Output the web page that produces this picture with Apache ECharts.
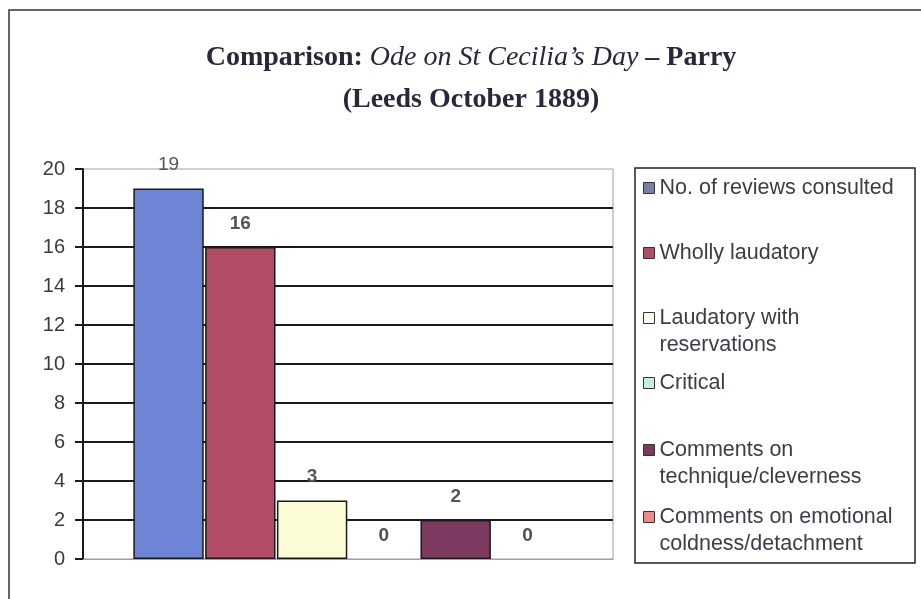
<!DOCTYPE html>
<html>
<head>
<meta charset="utf-8">
<script src="https://cdn.jsdelivr.net/npm/echarts@6/dist/echarts.min.js"></script>
<style>html,body{margin:0;padding:0;background:#fff;}#c{width:921px;height:599px;}</style>
</head>
<body>
<div id="c"></div>
<script>
const categories = ['Leeds October 1889'];
const seriesNames = ['No. of reviews consulted', 'Wholly laudatory', 'Laudatory with\nreservations', 'Critical', 'Comments on\ntechnique/cleverness', 'Comments on emotional\ncoldness/detachment'];
const seriesValues = [19, 16, 3, 0, 2, 0];
const barColors = ['#6d85d4', '#b14d65', '#fbfbd6', '#c8ece4', '#7d3a61', '#f08a8a'];
const legendColors = ['#7a7fa8', '#b14d65', '#fbfbf0', '#c8ece4', '#7d3a61', '#f08a8a'];
const yTicks = [0, 20, 2];

const chart = echarts.init(document.getElementById('c'), null, {renderer: 'canvas'});

const legendCenters = [188, 253, 318, 383, 450, 517];
const LH = 27;
const legends = seriesNames.map((n, i) => {
  const two = n.indexOf('\n') >= 0;
  return {
    orient: 'vertical',
    left: 643,
    top: legendCenters[i] - (two ? 1.5 * LH : 0.5 * LH),
    padding: 0,
    icon: 'rect',
    itemWidth: 11,
    itemHeight: 11,
    selectedMode: false,
    itemStyle: {borderColor: '#333', borderWidth: 1},
    formatter: (name) => (name.indexOf('\n') >= 0 ? '\u00a0\n' + name : name),
    textStyle: {fontFamily: 'Liberation Sans, Arial, sans-serif', fontSize: 21.5, color: '#3c3c4a', lineHeight: LH},
    data: [{name: n, itemStyle: {color: legendColors[i]}}]
  };
});

const series = seriesNames.map((n, i) => ({
  type: 'bar',
  name: n,
  data: [seriesValues[i]],
  barCategoryGap: '19%',
  barGap: '2%',
  itemStyle: {color: barColors[i], borderColor: '#1a1a1a', borderWidth: seriesValues[i] === 0 ? 0 : 1.5},
  label: {
    show: true, position: 'top', distance: 14,
    fontFamily: 'Liberation Sans, Arial, sans-serif', fontSize: 19,
    fontWeight: i === 0 ? 'normal' : 'bold',
    color: i === 3 || i === 5 ? '#4a4e60' : '#555'
  },
  emphasis: {disabled: true}
}));

chart.setOption({
  backgroundColor: '#fff',
  animation: false,
  title: {
    left: 471,
    textAlign: 'center',
    top: 37,
    padding: 0,
    text: '{b|Comparison: }{i|Ode on St Cecilia\u2019s Day}{b| \u2013 Parry}\n{b|(Leeds October 1889)}',
    textStyle: {
      lineHeight: 42,
      rich: {
        b: {fontFamily: 'Liberation Serif, Times New Roman, serif', fontWeight: 'bold', fontSize: 28, color: '#28283a', lineHeight: 42},
        i: {fontFamily: 'Liberation Serif, Times New Roman, serif', fontStyle: 'italic', fontWeight: 'normal', fontSize: 28, color: '#28283a', lineHeight: 42}
      }
    }
  },
  legend: legends,
  grid: {left: 83, right: 308, top: 169, bottom: 40, show: true, borderColor: '#a0a0a0', borderWidth: 1, backgroundColor: 'transparent'},
  xAxis: {
    type: 'category', data: categories,
    axisLine: {show: true, lineStyle: {color: '#a0a0a0', width: 1}},
    axisTick: {show: false}, axisLabel: {show: false}
  },
  yAxis: {
    type: 'value', min: yTicks[0], max: yTicks[1], interval: yTicks[2],
    axisLine: {show: true, lineStyle: {color: '#1a1a1a', width: 2}},
    axisTick: {show: true, length: 8, lineStyle: {color: '#1a1a1a', width: 2}},
    axisLabel: {margin: 18, fontFamily: 'Liberation Sans, Arial, sans-serif', fontSize: 20, color: '#3a3a3a'},
    splitLine: {show: true, showMinLine: false, showMaxLine: false, lineStyle: {color: '#1a1a1a', width: 2}}
  },
  graphic: [
    {type: 'rect', silent: true, z: -1, shape: {x: 9, y: 10, width: 960, height: 660}, style: {fill: 'none', stroke: '#333', lineWidth: 1.5}},
    {type: 'rect', silent: true, z: -1, shape: {x: 635, y: 168, width: 280, height: 395}, style: {fill: 'none', stroke: '#222', lineWidth: 1.5}}
  ],
  series: series
});
</script>
</body>
</html>
